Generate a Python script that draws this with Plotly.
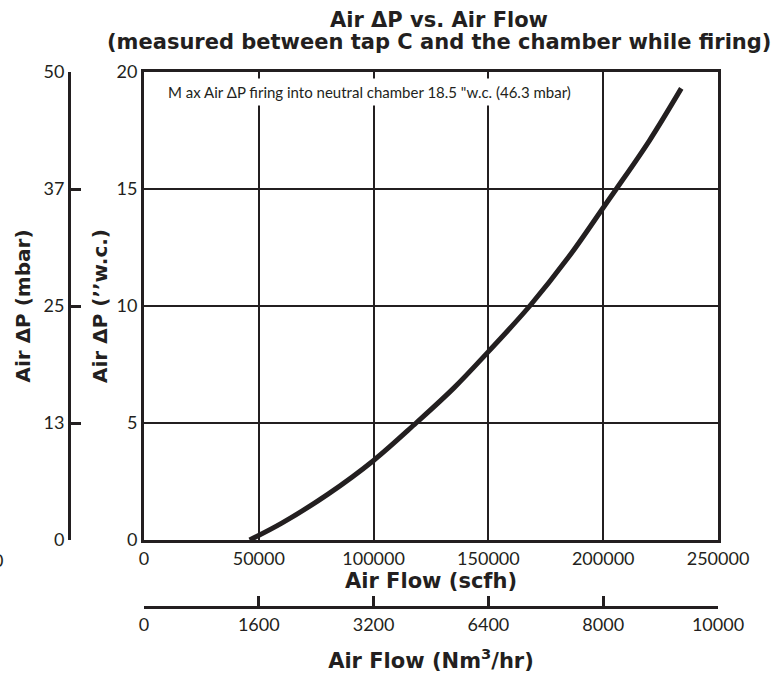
import plotly.graph_objects as go

# --- data ---
air_flow_scfh = [46000, 60000, 80000, 100000, 118500, 135000, 150000,
                 168000, 185000, 200000, 205700, 220000, 234000]
air_dp_wc = [0.0, 0.72, 1.95, 3.4, 5.0, 6.5, 8.05, 10.0, 12.1, 14.2, 15.0, 17.05, 19.3]

x_ticks = [0, 50000, 100000, 150000, 200000, 250000]
x_ticktext = ["0", "50000", "100000", "150000", "200000", "250000"]
nm3_ticktext = ["0", "1600", "3200", "6400", "8000", "10000"]
wc_ticks = [0, 5, 10, 15, 20]
mbar_ticktext = ["0", "13", "25", "37", "50"]

title_line1 = "Air \u0394P vs. Air Flow"
title_line2 = "(measured between tap C and the chamber while firing)"
note_text = "M ax Air \u0394P firing into neutral chamber 18.5 \"w.c. (46.3 mbar)"

INK = "#231f20"
FONT = "Lato"
BOLD = "DejaVu Sans"

W, H = 774, 673
ML, MR, MT, MB = 20, 56, 72, 40
pw = W - ML - MR
ph = H - MT - MB

def px_x(p):
    return (p - ML) / pw

def px_y(p):
    return (H - MB - p) / ph

fig = go.Figure()
fig.add_trace(go.Scatter(
    x=air_flow_scfh, y=air_dp_wc, mode="lines",
    line=dict(color=INK, width=5, shape="spline", smoothing=1.0),
    showlegend=False, hoverinfo="skip",
))
# invisible trace to activate secondary axes
fig.add_trace(go.Scatter(x=[None], y=[None], xaxis="x2", yaxis="y2",
                         showlegend=False, hoverinfo="skip"))

x_dom0 = px_x(144)
y_dom0 = px_y(540)

fig.update_layout(
    width=W, height=H,
    margin=dict(l=ML, r=MR, t=MT, b=MB, autoexpand=False),
    paper_bgcolor="white", plot_bgcolor="white",
    font=dict(family=FONT, color=INK, size=18),
    title=dict(
        text="<b>" + title_line1 + "</b>",
        x=px_x(439), xanchor="center", xref="paper",
        y=1 - 20 / H, yanchor="middle",
        font=dict(family=BOLD, size=21, color=INK),
    ),
    xaxis=dict(
        domain=[x_dom0, 1], range=[0, 250000],
        tickvals=x_ticks, ticktext=x_ticktext,
        showgrid=True, gridcolor=INK, gridwidth=2.2,
        showline=True, linecolor=INK, linewidth=3, mirror=True,
        zeroline=False, ticks="",
        tickfont=dict(size=18),
        title=dict(text="<b>Air Flow (scfh)</b>", font=dict(family=BOLD, size=21), standoff=3),
        anchor="y",
    ),
    yaxis=dict(
        domain=[y_dom0, 1], range=[0, 20],
        tickvals=wc_ticks,
        showgrid=True, gridcolor=INK, gridwidth=2.2,
        showline=True, linecolor=INK, linewidth=3, mirror=True,
        zeroline=False, ticks="",
        tickfont=dict(size=18),
        title=dict(text="<b>Air \u0394P (\u2019\u2019w.c.)</b>", font=dict(family=BOLD, size=20), standoff=4),
        anchor="x",
    ),
    xaxis2=dict(
        overlaying="x", anchor="free", position=px_y(607),
        range=[0, 250000], tickvals=x_ticks, ticktext=nm3_ticktext,
        showgrid=False, zeroline=False,
        showline=True, linecolor=INK, linewidth=3,
        ticks="inside", ticklen=10, tickwidth=2.5, tickcolor=INK,
        tickfont=dict(size=18),
        title=dict(text="<b>Air Flow (Nm<sup>3</sup>/hr)</b>", font=dict(family=BOLD, size=21), standoff=20),
        side="bottom",
    ),
    yaxis2=dict(
        overlaying="y", anchor="free", position=px_x(69),
        range=[0, 20], tickvals=wc_ticks, ticktext=mbar_ticktext,
        showgrid=False, zeroline=False,
        showline=True, linecolor=INK, linewidth=3,
        ticks="inside", ticklen=10, tickwidth=2.5, tickcolor=INK,
        tickfont=dict(size=18),
        title=dict(text="<b>Air \u0394P (mbar)</b>", font=dict(family=BOLD, size=20), standoff=6),
        side="left",
    ),
    annotations=[
        dict(
            text="<b>" + title_line2 + "</b>",
            xref="paper", yref="paper",
            x=px_x(439), y=px_y(42), xanchor="center", yanchor="middle",
            showarrow=False, font=dict(family=BOLD, size=21, color=INK),
        ),
        dict(
            text=note_text,
            xref="x domain", yref="y domain",
            x=(163 - 144) / (718 - 144), y=(540 - 92) / (540 - 72),
            xanchor="left", yanchor="middle", showarrow=False,
            font=dict(size=15, family=FONT, color=INK),
            bgcolor="white", borderpad=4,
        ),
        dict(
            text="0", xref="paper", yref="paper",
            x=px_x(-2), y=px_y(560), xanchor="center", yanchor="middle",
            showarrow=False, font=dict(size=18, family=FONT, color=INK),
        ),
    ],
)

fig.write_html("out.html", config={"displayModeBar": False},
               post_script="document.body.style.margin='0px';")
